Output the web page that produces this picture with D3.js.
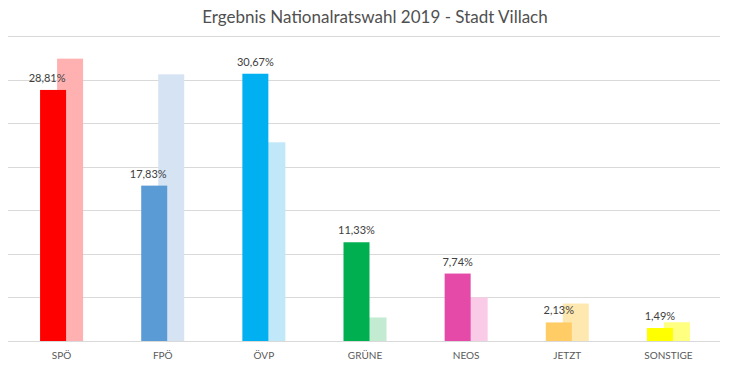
<!DOCTYPE html>
<html>
<head>
<meta charset="utf-8">
<script src="https://cdn.jsdelivr.net/npm/d3@7"></script>
<style>
  body { margin: 0; background: #fff; }
</style>
</head>
<body>
<div id="chart"></div>
<script>
// ------------------------------------------------------
// Data
const parties = ['SPÖ', 'FPÖ', 'ÖVP', 'GRÜNE', 'NEOS', 'JETZT', 'SONSTIGE']
const result2019 = [28.81, 17.83, 30.67, 11.33, 7.74, 2.13, 1.49]
const result2017 = [32.4, 30.6, 22.8, 2.7, 5.0, 4.3, 2.15]
const labels2019 = ['28,81%', '17,83%', '30,67%', '11,33%', '7,74%', '2,13%', '1,49%']
const yTicks = [0, 5, 10, 15, 20, 25, 30, 35]

const colors = ['#ff0000', '#5b9bd5', '#00b0f0', '#00b050', '#e64aa8', '#ffcc66', '#ffff00']
const lightColors = ['#ffb1b1', '#d5e3f3', '#c0e8f9', '#c2ebd2', '#f9cbe6', '#ffe8b0', '#ffff80']

// ------------------------------------------------------
// Size
const width = 738
const height = 377

const svg = d3.select('#chart')
  .append('svg')
  .attr('width', width)
  .attr('height', height)

// Scales
const x = d3.scaleBand()
  .domain(parties)
  .range([11, 719])

const y = d3.scaleLinear()
  .domain([0, 35])
  .range([341, 36])

// Gridlines
svg.append('g')
  .selectAll('line')
  .data(yTicks)
  .enter()
  .append('line')
  .attr('x1', 8)
  .attr('x2', 720)
  .attr('y1', d => Math.round(y(d)) + 0.5)
  .attr('y2', d => Math.round(y(d)) + 0.5)
  .attr('stroke', '#d9d9d9')
  .attr('stroke-width', 1)

// bar geometry around the category center
const barW = 26
const overlap = 9
const center = d => x(d) + x.bandwidth() / 2

// 2017 bars (behind)
svg.append('g')
  .selectAll('rect')
  .data(parties)
  .enter()
  .append('rect')
  .attr('x', d => center(d) - (barW * 2 - overlap) / 2 + barW - overlap)
  .attr('y', (d, i) => y(result2017[i]))
  .attr('width', barW)
  .attr('height', (d, i) => y(0) - y(result2017[i]))
  .attr('fill', (d, i) => lightColors[i])

// 2019 bars
svg.append('g')
  .selectAll('rect')
  .data(parties)
  .enter()
  .append('rect')
  .attr('x', d => center(d) - (barW * 2 - overlap) / 2)
  .attr('y', (d, i) => y(result2019[i]))
  .attr('width', barW)
  .attr('height', (d, i) => y(0) - y(result2019[i]))
  .attr('fill', (d, i) => colors[i])

// value labels (the first two were nudged left in the original)
const labelShift = [-6, -6, 0, 0, 0, 0, 0]
svg.append('g')
  .selectAll('text')
  .data(parties)
  .enter()
  .append('text')
  .attr('x', (d, i) => center(d) - (barW * 2 - overlap) / 2 + barW / 2 + labelShift[i])
  .attr('y', (d, i) => y(result2019[i]) - 8)
  .attr('text-anchor', 'middle')
  .attr('font-family', 'Lato, sans-serif')
  .attr('font-size', 11)
  .attr('fill', '#404040')
  .text((d, i) => labels2019[i])

// category axis
const xAxis = svg.append('g')
  .attr('transform', 'translate(0,341)')
  .call(d3.axisBottom(x).tickSize(0).tickPadding(11))
xAxis.select('.domain').remove()
xAxis.selectAll('text')
  .attr('font-family', 'Lato, sans-serif')
  .attr('font-size', 10)
  .attr('fill', '#595959')

// title
svg.append('text')
  .attr('x', 375)
  .attr('y', 23)
  .attr('text-anchor', 'middle')
  .attr('font-family', 'Lato, sans-serif')
  .attr('font-size', 17)
  .attr('fill', '#505050')
  .text('Ergebnis Nationalratswahl 2019 - Stadt Villach')
</script>
</body>
</html>
